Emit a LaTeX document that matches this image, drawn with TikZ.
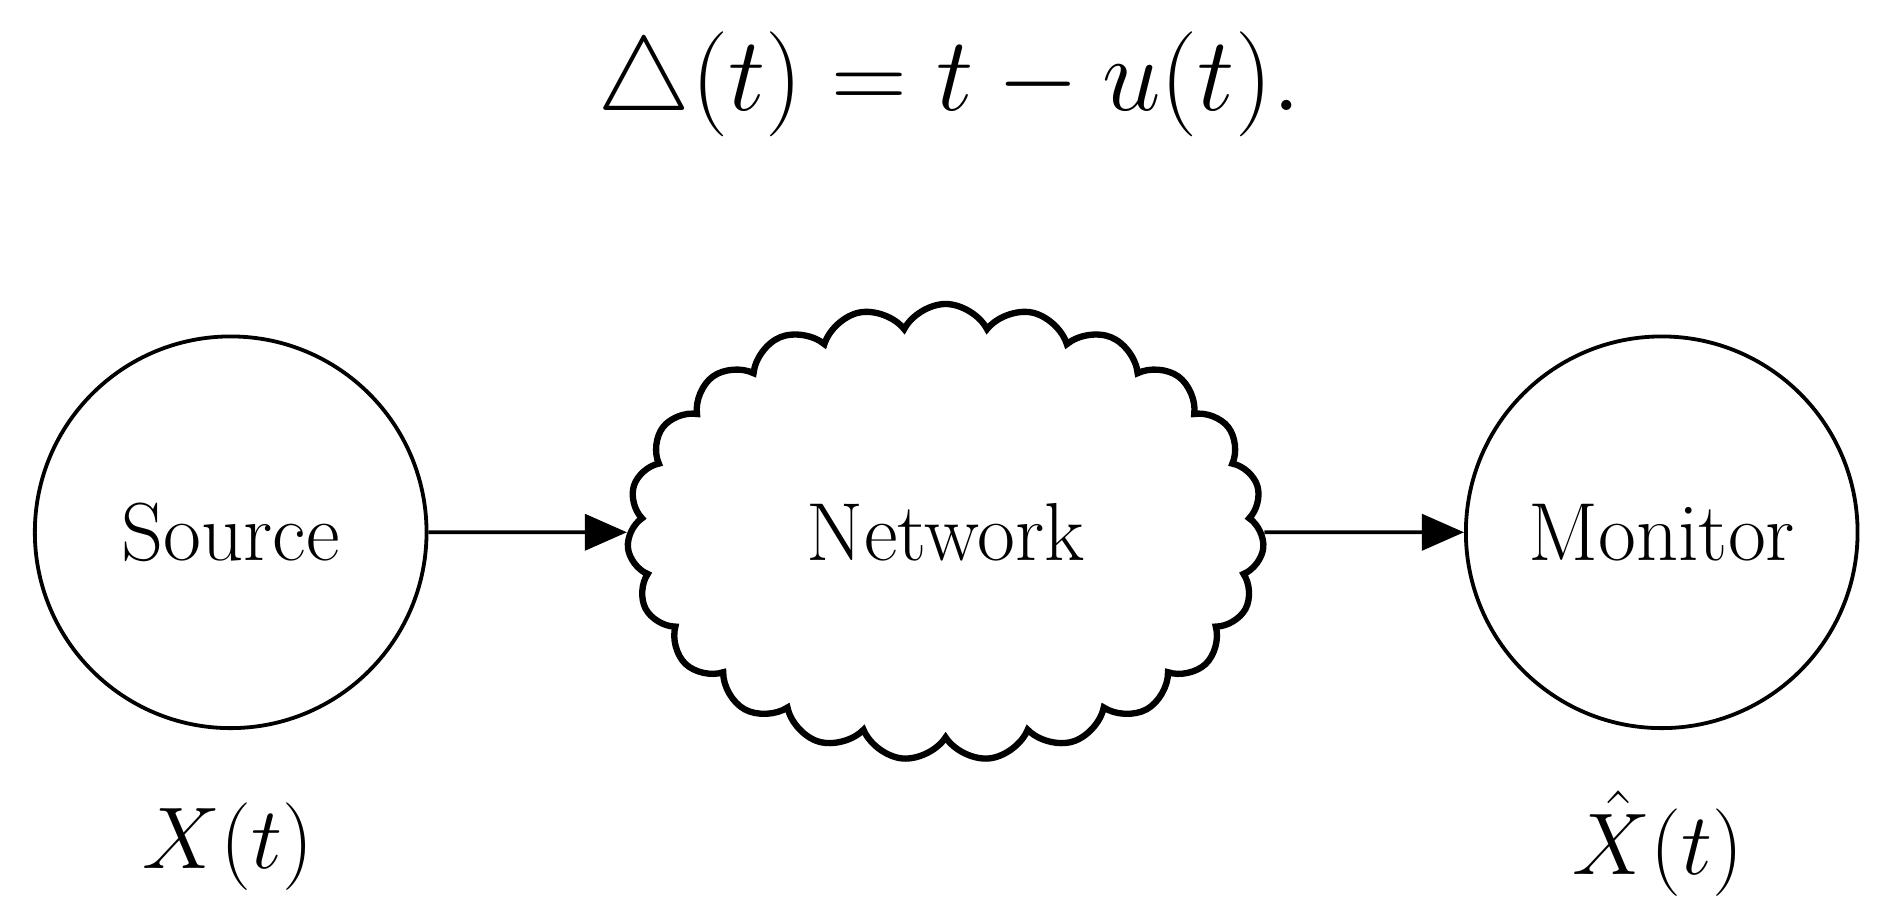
\documentclass[tikz,border=0pt]{standalone}
\usetikzlibrary{shapes.symbols,arrows.meta}
\begin{document}
\begin{tikzpicture}[
  circ/.style={draw,circle,line width=0.9pt,minimum size=3.26cm,inner sep=0pt,font=\fontsize{19.5}{22}\selectfont},
  net/.style={draw,cloud,cloud puffs=23,cloud puff arc=125,aspect=1.35,line width=1.5pt,minimum width=5.3cm,minimum height=3.8cm,font=\fontsize{19.5}{22}\selectfont},
  conn/.style={line width=0.9pt,-{Triangle[length=0.35cm,width=0.3cm]}},
  lab/.style={font=\fontsize{20}{24}\selectfont}
]
\useasboundingbox (0,0) rectangle (15.68,7.62);
\node[circ] (src) at (1.92,3.19) {Source};
\node[circ] (mon) at (13.83,3.19) {Monitor};
\node[net] (nw) at (7.87,3.19) {Network};
\draw[conn] (src) -- (nw);
\draw[conn] (nw) -- (mon);
\node[lab] (fx) at (1.90,0.57) {$X(t)$};
\node[lab] (fxh) at (13.80,0.60) {$\hat{X}(t)$};
\node[font=\fontsize{23}{27}\selectfont] (eq) at (7.90,6.92) {$\triangle(t) = t - u(t).$};
\end{tikzpicture}
\end{document}
